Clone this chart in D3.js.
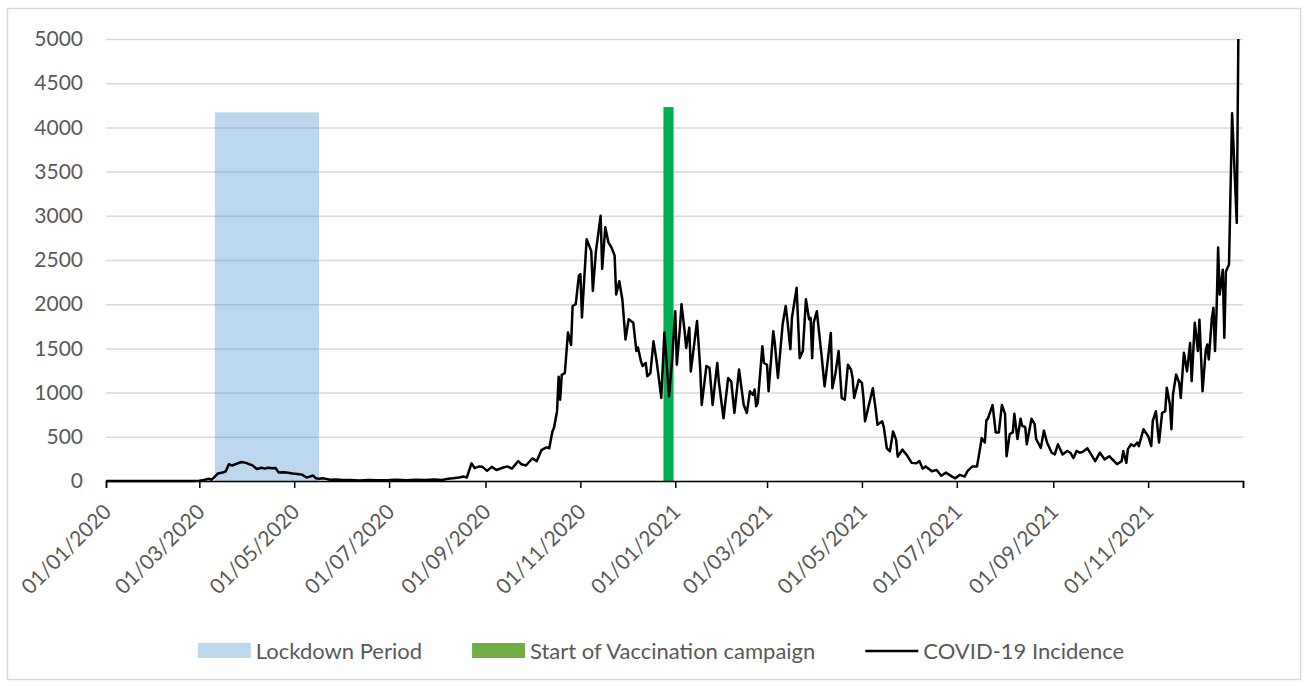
<!DOCTYPE html>
<html><head><meta charset="utf-8">
<script src="https://cdn.jsdelivr.net/npm/d3@7"></script>
<style>
body{margin:0;background:#fff}
svg{display:block}
text{font-family:Lato,"Open Sans","Noto Sans",sans-serif;fill:#595959}
</style>
</head><body>
<svg id="chart" width="1308" height="686"></svg>
<script>
// ---- data ----
const dates = [
"2020-01-01","2020-02-20","2020-02-25","2020-03-01","2020-03-04","2020-03-07","2020-03-09","2020-03-11","2020-03-13","2020-03-16",
"2020-03-18","2020-03-20","2020-03-22","2020-03-25","2020-03-28","2020-03-31","2020-04-02","2020-04-04","2020-04-07","2020-04-10",
"2020-04-12","2020-04-14","2020-04-17","2020-04-19","2020-04-21","2020-04-24","2020-04-26","2020-04-30","2020-05-03","2020-05-06",
"2020-05-09","2020-05-11","2020-05-13","2020-05-15","2020-05-17","2020-05-20","2020-05-24","2020-05-28","2020-06-01","2020-06-06",
"2020-06-12","2020-06-18","2020-06-24","2020-07-01","2020-07-06","2020-07-12","2020-07-18","2020-07-24","2020-07-30","2020-08-04",
"2020-08-08","2020-08-11","2020-08-15","2020-08-18","2020-08-20","2020-08-23","2020-08-25","2020-08-28","2020-08-30","2020-09-02",
"2020-09-05","2020-09-08","2020-09-12","2020-09-15","2020-09-18","2020-09-22","2020-09-24","2020-09-27","2020-10-01","2020-10-04",
"2020-10-07","2020-10-10","2020-10-12","2020-10-14","2020-10-15","2020-10-17","2020-10-18","2020-10-19","2020-10-20","2020-10-22",
"2020-10-24","2020-10-26","2020-10-27","2020-10-29","2020-10-31","2020-11-01","2020-11-02","2020-11-05","2020-11-08","2020-11-09",
"2020-11-11","2020-11-14","2020-11-15","2020-11-17","2020-11-19","2020-11-21","2020-11-23","2020-11-24","2020-11-26","2020-11-28",
"2020-11-30","2020-12-02","2020-12-05","2020-12-07","2020-12-08","2020-12-10","2020-12-11","2020-12-13","2020-12-14","2020-12-16",
"2020-12-18","2020-12-20","2020-12-21","2020-12-23","2020-12-25","2020-12-28","2020-12-30","2021-01-01","2021-01-02","2021-01-04",
"2021-01-05","2021-01-07","2021-01-08","2021-01-10","2021-01-11","2021-01-15","2021-01-17","2021-01-18","2021-01-21","2021-01-23",
"2021-01-25","2021-01-28","2021-01-29","2021-02-01","2021-02-04","2021-02-06","2021-02-08","2021-02-11","2021-02-14","2021-02-16",
"2021-02-18","2021-02-20","2021-02-21","2021-02-22","2021-02-23","2021-02-26","2021-02-27","2021-03-01","2021-03-02","2021-03-05",
"2021-03-06","2021-03-08","2021-03-11","2021-03-13","2021-03-14","2021-03-16","2021-03-17","2021-03-20","2021-03-21","2021-03-22",
"2021-03-24","2021-03-26","2021-03-28","2021-03-29","2021-03-30","2021-03-31","2021-04-02","2021-04-05","2021-04-07","2021-04-09",
"2021-04-11","2021-04-12","2021-04-14","2021-04-16","2021-04-18","2021-04-20","2021-04-22","2021-04-24","2021-04-25","2021-04-26",
"2021-04-29","2021-05-01","2021-05-02","2021-05-03","2021-05-05","2021-05-08","2021-05-10","2021-05-11","2021-05-14","2021-05-15",
"2021-05-17","2021-05-19","2021-05-21","2021-05-23","2021-05-24","2021-05-27","2021-05-30","2021-06-02","2021-06-05","2021-06-07",
"2021-06-09","2021-06-11","2021-06-15","2021-06-18","2021-06-21","2021-06-24","2021-06-28","2021-06-30","2021-07-03","2021-07-06",
"2021-07-08","2021-07-11","2021-07-14","2021-07-16","2021-07-17","2021-07-19","2021-07-20","2021-07-21","2021-07-24","2021-07-26",
"2021-07-28","2021-07-30","2021-08-01","2021-08-02","2021-08-04","2021-08-06","2021-08-07","2021-08-09","2021-08-11","2021-08-12",
"2021-08-14","2021-08-15","2021-08-18","2021-08-20","2021-08-21","2021-08-24","2021-08-26","2021-08-28","2021-08-31","2021-09-02",
"2021-09-04","2021-09-07","2021-09-10","2021-09-12","2021-09-14","2021-09-16","2021-09-18","2021-09-20","2021-09-23","2021-09-28",
"2021-10-01","2021-10-04","2021-10-07","2021-10-12","2021-10-15","2021-10-16","2021-10-18","2021-10-19","2021-10-21","2021-10-23",
"2021-10-25","2021-10-26","2021-10-29","2021-11-01","2021-11-03","2021-11-04","2021-11-06","2021-11-08","2021-11-10","2021-11-12",
"2021-11-13","2021-11-15","2021-11-16","2021-11-17","2021-11-19","2021-11-21","2021-11-22","2021-11-24","2021-11-26","2021-11-28",
"2021-11-29","2021-12-01","2021-12-03","2021-12-04","2021-12-06","2021-12-08","2021-12-09","2021-12-10","2021-12-12","2021-12-13",
"2021-12-14","2021-12-15","2021-12-16","2021-12-17","2021-12-19","2021-12-20","2021-12-21","2021-12-23","2021-12-25","2021-12-28",
"2021-12-29"
];
const incidence = [
0,0,1,3,12,25,15,50,85,95,
110,190,175,195,215,205,190,180,135,150,
140,150,145,148,95,100,95,85,80,72,
40,50,62,30,25,30,15,18,10,12,
6,12,8,10,15,8,14,10,18,12,
25,30,40,50,40,200,145,165,160,115,
160,125,150,165,140,225,190,175,255,225,
350,380,370,560,600,790,1180,920,1200,1220,
1680,1540,1980,2000,2320,2340,1850,2735,2600,2150,
2600,3000,2400,2870,2700,2640,2550,2110,2260,2050,
1600,1830,1790,1470,1510,1350,1300,1335,1185,1220,
1580,1355,1220,940,1680,955,1390,1920,1315,1735,
2000,1695,1505,1735,1240,1810,1280,860,1300,1280,
860,1335,1125,710,1165,1125,770,1260,860,770,
1015,975,1035,845,880,1525,1335,1315,1015,1695,
1560,1165,1770,1980,1830,1490,1845,2185,1790,1390,
1470,2055,1830,1845,1390,1790,1920,1430,1070,1355,
1675,1050,1220,1470,940,920,1315,1260,1165,940,
1145,1110,940,675,825,1050,790,635,675,615,
370,335,560,465,275,355,290,205,200,225,
140,165,110,125,60,95,50,30,70,50,
115,165,165,375,485,435,685,705,860,550,
550,860,760,280,530,550,760,475,705,625,
610,415,705,645,475,375,570,435,320,300,
415,300,340,320,260,340,320,330,370,225,
320,245,280,190,225,340,205,360,415,395,
435,395,585,510,395,680,790,435,770,790,
1055,865,585,980,1205,1110,940,1450,1240,1560,
1130,1790,1470,1825,1015,1470,1545,1375,1845,1960,
1470,1920,2640,2110,2390,1620,2370,2450,4160,2920,
5000
];
const yTicks = [0,500,1000,1500,2000,2500,3000,3500,4000,4500,5000];
const xTickDates = ["2020-01-01","2020-03-01","2020-05-01","2020-07-01","2020-09-01","2020-11-01",
                    "2021-01-01","2021-03-01","2021-05-01","2021-07-01","2021-09-01","2021-11-01","2022-01-01"];
const xTickLabels = ["01/01/2020","01/03/2020","01/05/2020","01/07/2020","01/09/2020","01/11/2020",
                     "01/01/2021","01/03/2021","01/05/2021","01/07/2021","01/09/2021","01/11/2021",""];
const lockdownPeriod = ["2020-03-11","2020-05-17"];
const lockdownHeight = 4170;
const vaccinationPeriod = ["2020-12-24T09:00","2020-12-30T22:00"];
const vaccinationHeight = 4230;
const legendLabels = ["Lockdown Period","Start of Vaccination campaign","COVID-19 Incidence"];

// ---- chart ----
const parse = s => s.length > 10 ? d3.utcParse("%Y-%m-%dT%H:%M")(s) : d3.utcParse("%Y-%m-%d")(s);
const svg = d3.select("#chart");
const L = 106, R = 1243, T = 39, B = 481;
const x = d3.scaleUtc().domain([parse("2020-01-01"), parse("2022-01-01")]).range([L, R]);
const y = d3.scaleLinear().domain([0, 5000]).range([B, T]);

// outer border
svg.append("rect").attr("x",7.5).attr("y",8.5).attr("width",1293).attr("height",671)
  .attr("fill","none").attr("stroke","#d9d9d9").attr("stroke-width",1.5);

// gridlines + y labels
const gy = svg.append("g").attr("transform",`translate(${L},0)`)
  .call(d3.axisLeft(y).tickValues(yTicks).tickSize(-(R-L)).tickPadding(23).tickFormat(d3.format("d")));
gy.select(".domain").remove();
gy.selectAll(".tick line").attr("stroke","#d9d9d9").attr("stroke-width",1.5);
gy.selectAll(".tick text").attr("font-size",21).attr("fill","#595959")
  .style("font-family",'Lato,"Open Sans",sans-serif');

// lockdown band
svg.append("rect")
  .attr("x", x(parse(lockdownPeriod[0]))).attr("width", x(parse(lockdownPeriod[1])) - x(parse(lockdownPeriod[0])))
  .attr("y", y(lockdownHeight)).attr("height", y(0) - y(lockdownHeight))
  .attr("fill","#5b9bd5").attr("fill-opacity",0.4);

// vaccination bar
svg.append("rect")
  .attr("x", x(parse(vaccinationPeriod[0]))).attr("width", x(parse(vaccinationPeriod[1])) - x(parse(vaccinationPeriod[0])))
  .attr("y", y(vaccinationHeight)).attr("height", y(0) - y(vaccinationHeight))
  .attr("fill","#00b050");

// incidence line
const series = dates.map((d,i) => ({date: parse(d), v: incidence[i]}));
svg.append("path").datum(series)
  .attr("fill","none").attr("stroke","#000").attr("stroke-width",2.5).attr("stroke-linejoin","round")
  .attr("d", d3.line().x(d => x(d.date)).y(d => y(d.v)));

// x axis
const gx = svg.append("g").attr("transform",`translate(0,${B})`)
  .call(d3.axisBottom(x).tickValues(xTickDates.map(parse)).tickSize(7)
        .tickFormat((d,i) => xTickLabels[i]));
gx.select(".domain").attr("stroke","#000").attr("stroke-width",1.5);
gx.selectAll(".tick line").attr("stroke","#000").attr("stroke-width",1.5);
gx.selectAll(".tick text")
  .attr("font-size",21).attr("fill","#595959")
  .style("font-family",'Lato,"Open Sans",sans-serif')
  .attr("text-anchor","end")
  .attr("x",0).attr("y",0).attr("dy","0.35em")
  .attr("transform","translate(1,27) rotate(-45)");

// legend
const leg = svg.append("g");
const legY = 651, symW = 53, symGap = 5, itemGap = 50;
const items = leg.selectAll("g").data(legendLabels).join("g");
items.append("text").text(d => d).attr("font-size",22).attr("fill","#595959")
  .attr("dy","0.35em").attr("y",legY);
const widths = [];
items.each(function(){ widths.push(d3.select(this).select("text").node().getComputedTextLength()); });
const total = widths.reduce((a,w) => a + symW + symGap + w, 0) + itemGap*(widths.length-1);
let cx = 661 - total/2;
items.each(function(d,i){
  const g = d3.select(this);
  if (i === 0) g.append("rect").attr("x",cx).attr("y",legY-8).attr("width",symW).attr("height",15).attr("fill","#bdd7ee");
  if (i === 1) g.append("rect").attr("x",cx).attr("y",legY-8).attr("width",symW).attr("height",15).attr("fill","#70ad47");
  if (i === 2) g.append("line").attr("x1",cx).attr("x2",cx+symW).attr("y1",legY).attr("y2",legY).attr("stroke","#000").attr("stroke-width",2.5);
  g.select("text").attr("x", cx + symW + symGap);
  cx += symW + symGap + widths[i] + itemGap;
});
</script>
</body></html>
